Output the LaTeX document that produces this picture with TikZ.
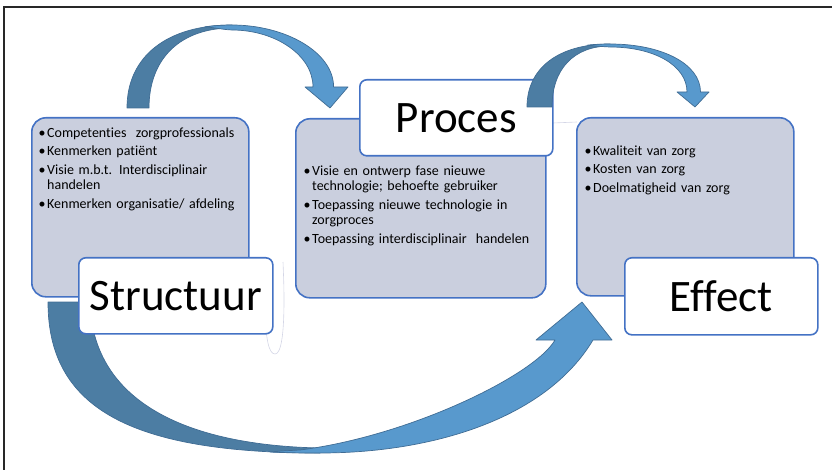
\documentclass[tikz,border=0pt]{standalone}
\usepackage{fontspec}
\setmainfont{Carlito}[Ligatures={NoCommon}]
\definecolor{panelfill}{RGB}{202,207,222}
\definecolor{boxline}{RGB}{68,114,196}
\definecolor{arrdark}{RGB}{76,125,163}
\definecolor{arrlight}{RGB}{88,153,205}
\definecolor{arrline}{RGB}{64,108,148}
\definecolor{frameink}{RGB}{40,40,40}
\definecolor{faintink}{RGB}{212,214,230}
% bullet item with hanging indent
\newcommand{\bitem}[1]{\par\hangindent=8.5pt\hangafter=1\noindent\makebox[8.5pt][l]{\textbullet}\strut#1}
\begin{document}
\begin{tikzpicture}[x=1pt,y=-1pt,
  panel/.style={draw=boxline,line width=1.6pt,fill=panelfill,rounded corners=14pt,inner sep=0pt,anchor=north west},
  tag/.style={draw=boxline,line width=1.6pt,fill=white,rounded corners=7pt,inner sep=0pt,anchor=north west,font=\fontsize{45}{52}\selectfont},
  listtext/.style={anchor=north west,inner sep=0pt,text width=240pt,align=left,font=\fontsize{14}{15.5}\selectfont},
  ribbondark/.style={fill=arrdark,draw=arrline,line width=0.7pt,line join=round},
  ribbonlight/.style={fill=arrlight,draw=arrline,line width=0.7pt,line join=round},
  frameline/.style={draw=frameink,line width=1.2pt},
  faint/.style={draw=faintink,line width=0.6pt}]
\useasboundingbox (0,0) rectangle (832,470);

% page frame
\draw[frameline] (4,470) -- (4,7) -- (832,7);

% faint stray outlines
\draw[faint] (265,300) .. controls (265,340) and (269,354) .. (275,354) .. controls (281,354) and (284,335) .. (284,300) .. controls (284,285) and (283.5,275) .. (283,262);
\draw[faint] (553,123) -- (577,122);

% content panels
\node[panel,minimum width=217pt,minimum height=179pt] (structbox) at (31,117) {};
\node[panel,minimum width=250pt,minimum height=179pt] (procbox) at (295,118) {};
\node[panel,minimum width=217pt,minimum height=178pt] (effbox) at (576,117) {};

% bullet lists
\node[listtext] (structlist) at (38.5,118.6) {\setlength{\parskip}{3pt}%
  \bitem{Competenties\ \ zorgprofessionals}%
  \bitem{Kenmerken patiënt}%
  \bitem{Visie m.b.t. Interdisciplinair\newline handelen}%
  \bitem{Kenmerken organisatie/ afdeling}};
\node[listtext] (proclist) at (303.5,156.6) {\setlength{\parskip}{3pt}%
  \bitem{Visie en ontwerp fase nieuwe\newline technologie; behoefte gebruiker}%
  \bitem{Toepassing nieuwe technologie in\newline zorgproces}%
  \bitem{Toepassing interdisciplinair\ \ handelen}};
\node[listtext] (efflist) at (584.5,136.6) {\setlength{\parskip}{3pt}%
  \bitem{Kwaliteit van zorg}%
  \bitem{Kosten van zorg}%
  \bitem{Doelmatigheid van zorg}};

% long arrow: Structuur -> Effect
\path[ribbondark] (48,302) .. controls (48,407.7) and (129.6,453) .. (320,453) -- (320,448)
  .. controls (175,445) and (92,395) .. (90,302) -- cycle;
\path[ribbonlight] (270,452) .. controls (290,453) and (305,453) .. (320,453)
  .. controls (430,453) and (545,420) .. (593,340) -- (612,340) -- (582,302) -- (536,340) -- (555,340)
  .. controls (535,375) and (410,436) .. (300,450) .. controls (290,450.5) and (280,451) .. cycle;

% title tags
\node[tag,minimum width=194pt,minimum height=76pt] (structtag) at (78,257) {Structuur};
\node[tag,minimum width=193pt,minimum height=77pt] (efftag) at (624,257) {Effect};
\node[tag,minimum width=193pt,minimum height=76pt] (proctag) at (359,79) {Proces};

% arrow: Structuur -> Proces
\path[ribbondark] (127,108) .. controls (127,56.5) and (166.9,25) .. (232,25) -- (232,28)
  .. controls (180.5,28) and (149,58.4) .. (149,108) -- cycle;
\path[ribbonlight] (232,25) .. controls (285,25) and (333.6,52) .. (333.6,87) -- (348,87) -- (330,108) -- (305,87) -- (313,87)
  .. controls (313,55) and (275,30) .. (232,30) .. controls (222,29.5) and (214,27.5) .. (205,26.8)
  .. controls (214,25.6) and (222,25.1) .. cycle;

% arrow: Proces -> Effect
\path[ribbondark] (527,107) .. controls (527,68) and (558.5,44) .. (610,44) -- (610,46)
  .. controls (574,46) and (552,69) .. (552,107) -- cycle;
\path[ribbonlight] (610,44) .. controls (662,44) and (700.5,64) .. (700.5,92) -- (709,92) -- (695,107) -- (677,92) -- (687,92)
  .. controls (687,66) and (655,47) .. (610,47) .. controls (600,46.6) and (593,45.6) .. (587,45.2)
  .. controls (593,44.4) and (600,44.1) .. cycle;
\end{tikzpicture}
\end{document}
